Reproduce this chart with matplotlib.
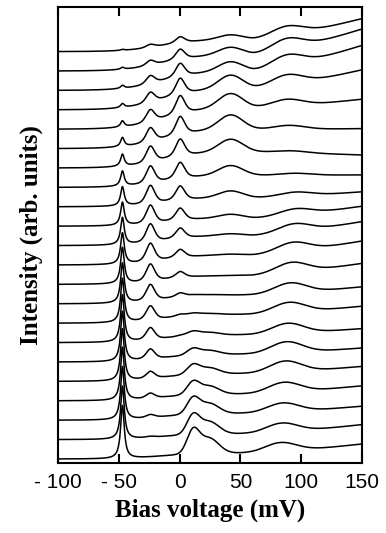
import numpy as np
import matplotlib
matplotlib.use("Agg")
import matplotlib.pyplot as plt

# x axis ticks as printed
tick_values = [-100, -50, 0, 50, 100, 150]
tick_labels = ["- 100", "- 50", "0", "50", "100", "150"]

# spectra, bottom trace first. heights (1 unit ~ 1 px)
trace_step = 19.4
peak_a    = [53, 53, 53, 53, 52, 50, 47, 44, 40, 36, 31, 27, 23, 19, 15, 12, 9, 6, 4, 3, 2, 1]   # -47 mV
peak_b    = [0, 1, 3, 5, 7, 10, 12, 14, 16, 17, 18, 18, 18, 18, 17, 16, 14, 12, 10, 8, 5, 3]     # -24 mV
peak_c    = [0, 0, 0, 0, 0, 0, 1, 2, 4, 6, 8, 10, 12, 14, 16, 17, 18, 18, 16, 13, 10, 6]         # 0 mV
hump_low  = [22, 18, 15, 12, 9, 6, 4, 2, 1, 0, 0, 0, 0, 0, 0, 0, 0, 0, 0, 0, 0, 0]              # +12 mV
hump_high = [0, 0, 0, 0, 0, 0, 0, 0, 0, 0, 1, 2, 4, 7, 10, 13, 15, 15, 14, 10, 8, 5]             # +42 mV
hump_e    = [9, 9, 9, 10, 11, 11, 10, 10, 10, 10, 9, 8, 6, 4, 2, 2, 4, 7, 10, 11, 11, 9]
hump_e_at = [83, 84, 85, 86, 87, 88, 89, 90, 91, 92, 93, 94, 95, 95, 95, 92, 90, 88, 88, 88, 88, 88]
level_mid = [6, 6, 7, 7, 8, 8, 8, 9, 9, 9, 10, 10, 8, 9, 12, 16, 19, 21, 21, 19, 16, 12]
level_end = [15, 15, 14, 15, 15, 14, 14, 17, 17, 21, 24, 24, 20, 15, 12.5, 13, 20, 30, 40, 45, 42, 33]


def lor(v, c, w):
    return 1.0 / (1.0 + ((v - c) / w) ** 2)


def gau(v, c, s):
    return np.exp(-0.5 * ((v - c) / s) ** 2)


def spectrum(i, v):
    step = 0.5 * (1 + np.tanh((v + 15) / 30))
    tail = np.clip((v - 60) / 90, 0, 1) ** 1.3
    y = level_mid[i] * step + (level_end[i] - level_mid[i]) * tail
    y += peak_a[i] * lor(v, -47, 1.8)
    y += peak_b[i] * (0.5 * lor(v, -24, 4) + 0.5 * gau(v, -24, 3.6))
    y += peak_c[i] * (0.5 * lor(v, 0.5, 4.2) + 0.5 * gau(v, 0.5, 3.8))
    y += hump_low[i] * (gau(v, 11, 5) + 0.7 * gau(v, 24, 8))
    y += hump_high[i] * gau(v, 42, 10)
    y += hump_e[i] * gau(v, hump_e_at[i], 13)
    return y


fig = plt.figure(figsize=(3.86, 5.33), dpi=100)
ax = fig.add_axes([58 / 386, 70 / 533, 304 / 386, 456 / 533])

v = np.linspace(-100, 150, 1201)
for i in range(len(peak_a)):
    ax.plot(v, 4 + trace_step * i + spectrum(i, v), color="black", lw=1.1)

ax.set_xlim(-100, 150)
ax.set_ylim(0, 456)
ax.set_yticks([])
ax.set_xticks(tick_values)
ax.set_xticklabels(tick_labels, family="Liberation Sans", fontsize=15)
ax.tick_params(axis="x", direction="in", top=True, length=6.5, width=1.5, pad=7)
for sp in ax.spines.values():
    sp.set_linewidth(1.5)

ax.set_xlabel("Bias voltage (mV)", family="Liberation Serif", fontweight="bold", fontsize=18, labelpad=5)
ax.set_ylabel("Intensity (arb. units)", family="Liberation Serif", fontweight="bold", fontsize=18, labelpad=11)

fig.savefig("out.png", dpi=100)
